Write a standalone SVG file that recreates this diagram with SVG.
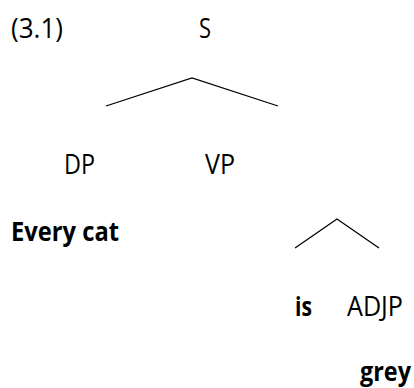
<svg xmlns="http://www.w3.org/2000/svg" width="414" height="388" viewBox="0 0 414 388">
  <style>
    text { font-family: "Open Sans", "Noto Sans", "Liberation Sans", sans-serif; font-size: 27px; fill: #000; }
    .b { font-weight: bold; }
    .edge { fill: none; stroke: #000; stroke-width: 1.3; stroke-linejoin: miter; }
  </style>
  <rect width="414" height="388" fill="#fff"/>
  <g id="label"><text x="11" y="38" textLength="52" lengthAdjust="spacingAndGlyphs">(3.1)</text></g>
  <g id="S"><text x="199" y="38" textLength="12" lengthAdjust="spacingAndGlyphs">S</text></g>
  <g id="DP"><text x="64" y="174" textLength="31" lengthAdjust="spacingAndGlyphs">DP</text></g>
  <g id="VP"><text x="205" y="174" textLength="30" lengthAdjust="spacingAndGlyphs">VP</text></g>
  <g id="every-cat"><text class="b" x="11" y="241" textLength="108" lengthAdjust="spacingAndGlyphs">Every cat</text></g>
  <g id="is"><text class="b" x="295" y="316" textLength="17" lengthAdjust="spacingAndGlyphs">is</text></g>
  <g id="ADJP"><text x="347" y="316" textLength="56" lengthAdjust="spacingAndGlyphs">ADJP</text></g>
  <g id="grey"><text class="b" x="360" y="381" textLength="51" lengthAdjust="spacingAndGlyphs">grey</text></g>
  <g id="connectors">
    <polyline class="edge" points="106,106 192,78 278,106"/>
    <polyline class="edge" points="295,248 337,219 379,248"/>
  </g>
</svg>
